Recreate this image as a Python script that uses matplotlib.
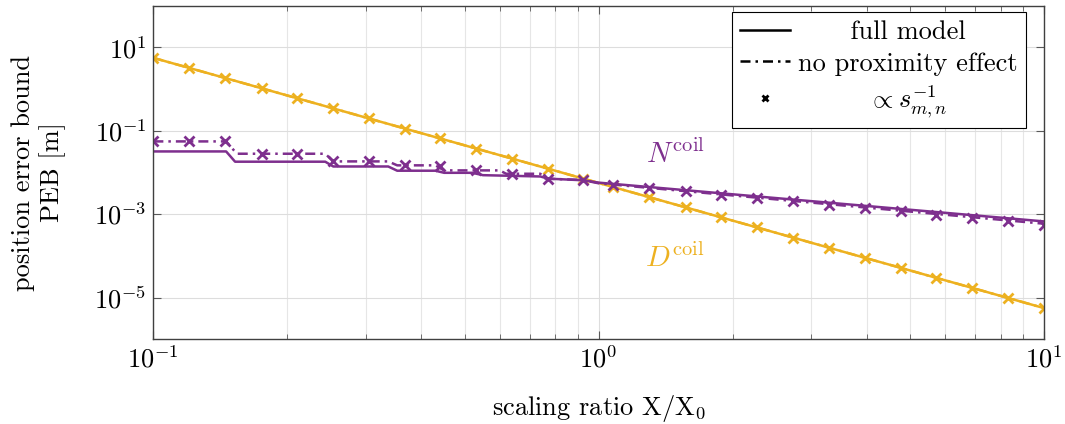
import numpy as np
import matplotlib
matplotlib.use('Agg')
import matplotlib.pyplot as plt
from matplotlib.lines import Line2D
from matplotlib.textpath import TextPath
from matplotlib.ticker import FixedLocator, NullLocator, LogLocator, FuncFormatter

plt.rcParams['font.family'] = ['cmr10']
plt.rcParams['mathtext.fontset'] = 'cm'
plt.rcParams['axes.unicode_minus'] = False

purple = '#7E2F8E'
yellow = '#EDB120'

# sample points of the s^-1 reference markers
marker_x = [0.100, 0.120, 0.145, 0.175, 0.210, 0.253, 0.305, 0.367, 0.441, 0.531, 0.640, 0.770, 0.925,
            1.08, 1.30, 1.57, 1.88, 2.27, 2.73, 3.29, 3.96, 4.77, 5.74, 6.91, 8.31, 10.0]

# D coil: PEB at the marker positions (full model and no proximity coincide)
d_coil = [5.6, 3.24, 1.84, 1.045, 0.605, 0.346, 0.197, 0.113, 0.0653, 0.0374, 0.0214, 0.0123, 0.00708,
          0.00445, 0.00255, 0.00145, 8.43e-4, 4.79e-4, 2.75e-4, 1.57e-4, 9.0e-5, 5.16e-5, 2.96e-5,
          1.70e-5, 9.76e-6, 5.6e-6]

# N coil: s^-1 scaling markers
n_marker = [0.0555, 0.0555, 0.0555, 0.0281, 0.0281, 0.0184, 0.0184, 0.0149, 0.0145, 0.0112, 0.0093,
            0.00695, 0.00643, 0.00507, 0.00422, 0.00364, 0.00292, 0.00243, 0.00201, 0.00168, 0.00140,
            0.00116, 0.000966, 0.000805, 0.000667, 0.000556]

# N coil, full model
n_full_x = [0.100, 0.1457, 0.1526, 0.2433, 0.2536, 0.3369, 0.353, 0.43, 0.45, 0.52, 0.55, 0.74, 0.77,
            0.92, 1.0, 1.69, 10.0]
n_full_y = [0.0319, 0.0319, 0.0181, 0.0181, 0.0139, 0.0139, 0.0110, 0.0110, 0.0098, 0.0098, 0.0086,
            0.0080, 0.0071, 0.0065, 0.0057, 0.0035, 0.00067]

# N coil, no proximity effect
n_nop_x = [0.100, 0.1457, 0.154, 0.2433, 0.2536, 0.3369, 0.353, 0.43, 0.45, 0.60, 0.62, 0.74, 0.76,
           0.92, 1.0, 10.0]
n_nop_y = [0.0555, 0.0555, 0.0281, 0.0281, 0.0184, 0.0184, 0.0148, 0.0148, 0.0112, 0.0112, 0.0093,
           0.0093, 0.0071, 0.0066, 0.0055, 0.00059]

legend_labels = ['full model', 'no proximity effect', r'$\propto s_{m,n}^{-1}$']
y_ticks = [1e-5, 1e-3, 1e-1, 1e1]

fs = 19

fig = plt.figure(figsize=(10.65, 4.24), dpi=100)
ax = fig.add_axes([0.144, 0.2, 0.836, 0.7866])

lw = 1.8
dashdot = (0, (4, 2, 1, 2))

ax.plot(marker_x, d_coil, color=yellow, lw=lw)
ax.plot(marker_x, d_coil, color=yellow, lw=lw, linestyle=dashdot)
ax.plot(marker_x, d_coil, color=yellow, lw=0, marker='x', ms=7, mew=2)

ax.plot(n_full_x, n_full_y, color=purple, lw=lw)
ax.plot(n_nop_x, n_nop_y, color=purple, lw=lw, linestyle=dashdot)
ax.plot(marker_x, n_marker, color=purple, lw=0, marker='x', ms=7, mew=2)

ax.set_xscale('log')
ax.set_yscale('log')
ax.set_xlim(0.1, 10)
ax.set_ylim(1e-6, 1e2)

ax.xaxis.set_major_locator(FixedLocator([0.1, 1, 10]))
ax.xaxis.set_minor_locator(LogLocator(base=10, subs=np.arange(2, 10)))
ax.xaxis.set_major_formatter(FuncFormatter(lambda v, p: r'$10^{%d}$' % round(np.log10(v))))
ax.yaxis.set_major_locator(FixedLocator(y_ticks))
ax.yaxis.set_minor_locator(NullLocator())
ax.yaxis.set_major_formatter(FuncFormatter(lambda v, p: r'$10^{%d}$' % round(np.log10(v))))

ax.grid(True, which='major', color='#dddddd', lw=0.8)
ax.grid(True, which='minor', axis='x', color='#e6e6e6', lw=0.8)
ax.set_axisbelow(True)
ax.tick_params(which='both', direction='in', top=True, right=True, labelsize=fs, color='0.35')
ax.tick_params(which='major', length=6, width=0.8, pad=5)
ax.tick_params(which='minor', length=3.5, width=0.6)
for s in ax.spines.values():
    s.set_color('0.25')
    s.set_linewidth(1.0)

ax.set_xlabel('scaling ratio X/X$_0$', fontsize=fs)
ax.set_ylabel('position error bound\nPEB [m]', fontsize=fs, linespacing=1.2)
ax.xaxis.set_label_coords(0.5, -0.16)
ax.yaxis.set_label_coords(-0.098, 0.5)

ax.text(1.486, 0.027, r'$N^{\mathrm{coil}}$', color=purple, fontsize=21, ha='center', va='center')
ax.text(1.486, 9.0e-5, r'$D^{\mathrm{coil}}$', color=yellow, fontsize=21, ha='center', va='center')

handles = [Line2D([], [], color='k', lw=lw),
           Line2D([], [], color='k', lw=lw, linestyle=dashdot),
           Line2D([], [], color='k', lw=0, marker='x', ms=5, mew=2)]
leg = ax.legend(handles, legend_labels, loc='upper right', bbox_to_anchor=(0.98, 0.98),
                borderaxespad=0, fontsize=fs, handlelength=1.9, handletextpad=0.3,
                labelspacing=0.3, borderpad=0.3, fancybox=False, framealpha=1, numpoints=1)
leg.get_frame().set_edgecolor('k')
leg.get_frame().set_linewidth(0.8)

# centre the shorter legend entries by padding them with leading spaces
fig.canvas.draw()
r = fig.canvas.get_renderer()
texts = leg.get_texts()
widths = [t.get_window_extent(r).width for t in texts]
wmax = max(widths)
sp = texts[0].get_fontproperties()
space_w = (TextPath((0, 0), 'a a', prop=sp).get_extents().width -
           TextPath((0, 0), 'aa', prop=sp).get_extents().width) * fig.dpi / 72
for t, w in zip(texts, widths):
    n = int(round((wmax - w) / 2 / space_w))
    if n > 0:
        t.set_text(' ' * n + t.get_text())

fig.savefig('out.png', dpi=100)
